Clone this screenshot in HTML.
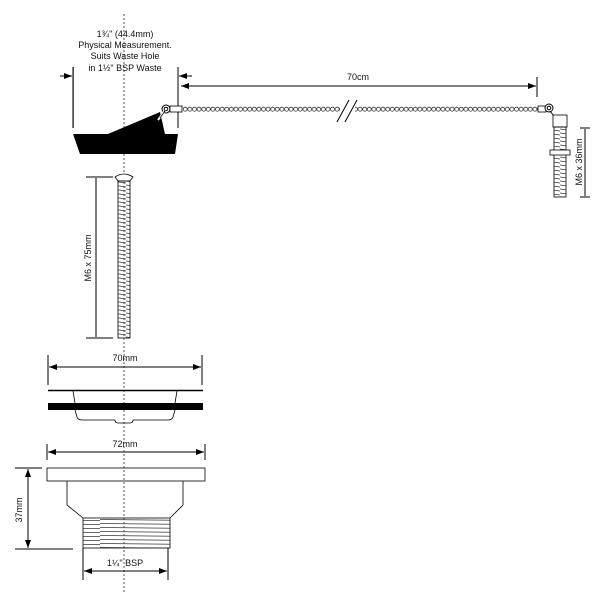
<!DOCTYPE html>
<html><head><meta charset="utf-8"><style>
html,body{margin:0;padding:0;background:#fff;}
svg{display:block;font-family:"Liberation Sans",Arial,sans-serif;}
</style></head><body>
<svg width="611" height="600" viewBox="0 0 611 600" xmlns="http://www.w3.org/2000/svg">
<defs>
<pattern id="chain" x="183" y="106.5" width="4.6" height="6" patternUnits="userSpaceOnUse">
<circle cx="2.3" cy="2.7" r="2" fill="none" stroke="#333" stroke-width="0.8"/>
</pattern>
<pattern id="thr" x="0" y="0" width="14" height="4" patternUnits="userSpaceOnUse">
<path d="M0 1 L14 3" stroke="#333" stroke-width="0.8"/>
</pattern>
<pattern id="bthr" x="0" y="518" width="100" height="4" patternUnits="userSpaceOnUse">
<path d="M0 1.5 L100 2.5" stroke="#333" stroke-width="0.8"/>
</pattern>
<marker id="ar" markerWidth="8" markerHeight="6" refX="8" refY="3" orient="auto" markerUnits="userSpaceOnUse">
<path d="M0 0 L8 3 L0 6 z" fill="#000"/></marker>
</defs>
<g stroke="#000" fill="none" stroke-width="1">
<line x1="124" y1="14" x2="124" y2="592" stroke-dasharray="2,2" stroke="#555"/>
<line x1="178" y1="67" x2="178" y2="128"/>
<line x1="60" y1="76" x2="72" y2="76" marker-end="url(#ar)"/>
<line x1="192" y1="76" x2="179" y2="76" marker-end="url(#ar)"/>
<line x1="300" y1="86" x2="181" y2="86" marker-end="url(#ar)"/>
<line x1="300" y1="86" x2="536" y2="86" marker-end="url(#ar)"/>
<line x1="537" y1="77" x2="537" y2="97"/>
</g>
<rect x="72.5" y="67" width="1.2" height="61" fill="#000"/>
<polygon points="73,134 108,134 160,112 165,134 178,134 175,154 80,154" fill="#000"/>
<circle cx="166" cy="109" r="4" fill="#fff" stroke="#000"/>
<circle cx="166" cy="109" r="1.8" fill="none" stroke="#000"/>
<line x1="164" y1="112" x2="158" y2="120" stroke="#fff" stroke-width="2"/>
<line x1="160" y1="118" x2="165" y2="111" stroke="#000" stroke-width="0.8"/>
<rect x="170" y="106" width="12" height="6" fill="#fff" stroke="#000" stroke-width="0.8"/>
<rect x="183" y="106.5" width="157" height="6" fill="url(#chain)"/>
<rect x="355" y="106.5" width="184" height="6" fill="url(#chain)"/>
<line x1="337" y1="122" x2="349" y2="100" stroke="#000"/>
<line x1="345" y1="122" x2="357" y2="100" stroke="#000"/>
<rect x="538" y="106" width="8" height="6" fill="#fff" stroke="#000" stroke-width="0.8"/>
<circle cx="549" cy="108" r="4" fill="#fff" stroke="#000"/>
<circle cx="549" cy="108" r="1.8" fill="none" stroke="#000"/>
<line x1="550" y1="111" x2="557" y2="120" stroke="#000"/>
<rect x="553" y="115" width="14" height="12" fill="#fff" stroke="#000" stroke-width="0.8"/>
<rect x="554" y="127" width="12" height="70" fill="url(#thr)" stroke="#000" stroke-width="0.8"/>
<rect x="550" y="150" width="20" height="5" fill="#fff" stroke="#000" stroke-width="0.8"/>
<g stroke="#000">
<line x1="585" y1="129" x2="585" y2="196"/>
<line x1="580" y1="128" x2="590" y2="128"/>
<line x1="580" y1="197" x2="590" y2="197"/>
</g>
<path d="M115 177 Q124 171 133 177 L130 181 L118 181 Z" fill="#fff" stroke="#000" stroke-width="0.8"/>
<rect x="118" y="181" width="12" height="157" fill="url(#thr)" stroke="#000" stroke-width="0.8"/>
<g stroke="#000">
<line x1="96" y1="178" x2="96" y2="337"/>
<line x1="86" y1="177" x2="113" y2="177"/>
<line x1="86" y1="338" x2="113" y2="338"/>
</g>
<g stroke="#000" fill="none">
<line x1="48" y1="355" x2="48" y2="385"/>
<line x1="202" y1="355" x2="202" y2="385"/>
<line x1="60" y1="367" x2="49" y2="367" marker-end="url(#ar)"/>
<line x1="60" y1="367" x2="190" y2="367"/>
<line x1="190" y1="367" x2="201" y2="367" marker-end="url(#ar)"/>
<line x1="48" y1="390.5" x2="203" y2="390.5" stroke-width="1.6"/>
<path d="M73 391 L75 403 M177 391 L175 403 M75 410 L77 417 Q78 420 82 420 L115 420 Q115 423 118 423 L130 423 Q133 423 133 420 L168 420 Q172 420 173 417 L175 410" stroke-width="0.8"/>
</g>
<rect x="48" y="403" width="155" height="7" fill="#000"/>
<g stroke="#000" fill="none">
<line x1="47" y1="444" x2="47" y2="460"/>
<line x1="205" y1="444" x2="205" y2="460"/>
<line x1="60" y1="452" x2="48" y2="452" marker-end="url(#ar)"/>
<line x1="60" y1="452" x2="192" y2="452"/>
<line x1="192" y1="452" x2="204" y2="452" marker-end="url(#ar)"/>
<rect x="47" y="468" width="158" height="13" stroke-width="0.8"/>
<path d="M67 481 L67 505 L83 518 M183 481 L183 505 L170 518" stroke-width="0.8"/>
</g>
<rect x="83" y="518" width="87" height="30" fill="url(#bthr)" stroke="#000" stroke-width="0.8"/>
<g stroke="#000">
<line x1="15" y1="468" x2="42" y2="468"/>
<line x1="15" y1="549" x2="73" y2="549"/>
<line x1="28" y1="480" x2="28" y2="469" marker-end="url(#ar)"/>
<line x1="28" y1="480" x2="28" y2="537"/>
<line x1="28" y1="537" x2="28" y2="548" marker-end="url(#ar)"/>
<line x1="83" y1="548" x2="83" y2="580"/>
<line x1="168" y1="548" x2="168" y2="580"/>
<line x1="95" y1="571" x2="84" y2="571" marker-end="url(#ar)"/>
<line x1="95" y1="571" x2="156" y2="571"/>
<line x1="156" y1="571" x2="167" y2="571" marker-end="url(#ar)"/>
</g>
<g font-size="9" fill="#111" text-anchor="middle">
<text x="125" y="37">1¾" (44.4mm)</text>
<text x="125" y="48">Physical Measurement.</text>
<text x="125" y="59">Suits Waste Hole</text>
<text x="125" y="71">in 1½" BSP Waste</text>
<text x="358" y="80">70cm</text>
<text x="125" y="361">70mm</text>
<text x="125" y="447">72mm</text>
<text x="125" y="566">1¼" BSP</text>
<text transform="translate(582,162) rotate(-90)">M6 x 36mm</text>
<text transform="translate(91,258) rotate(-90)">M6 x 75mm</text>
<text transform="translate(22,510) rotate(-90)">37mm</text>
</g>
</svg>
</body></html>
